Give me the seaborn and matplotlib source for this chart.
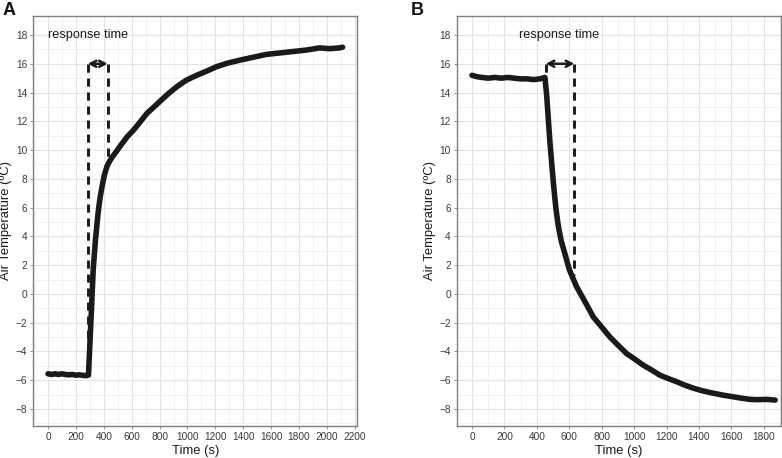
import numpy as np
import pandas as pd
import matplotlib
matplotlib.use("Agg")
import matplotlib.pyplot as plt
from matplotlib.ticker import MultipleLocator
import seaborn as sns

# ---- data ----
time_a = [0, 25, 50, 75, 100, 125, 150, 175, 200, 225, 250, 275, 290, 309, 324, 340,
          352, 364, 376, 388, 405, 424, 440, 459, 490, 519, 570, 614, 660, 709, 760, 804,
          860, 923, 990, 1066, 1140, 1209, 1290, 1375, 1470, 1565, 1660, 1755, 1850,
          1946, 2020, 2088, 2112]
temp_a = [-5.55, -5.6, -5.55, -5.6, -5.55, -5.6, -5.62, -5.6, -5.65, -5.62, -5.66, -5.68,
          -5.64, -1.6, 1.7, 3.75, 4.95, 6.05, 6.85, 7.5, 8.3, 8.9, 9.2, 9.5, 9.9, 10.3,
          10.95, 11.4, 11.95, 12.55, 13.0, 13.4, 13.9, 14.4, 14.85, 15.2, 15.5, 15.8,
          16.05, 16.25, 16.45, 16.65, 16.75, 16.85, 16.95, 17.1, 17.05, 17.1, 17.15]

time_b = [0, 30, 60, 100, 140, 180, 220, 260, 300, 340, 380, 420, 450, 460, 481, 503,
          517, 532, 550, 573, 600, 645, 700, 748, 800, 851, 900, 954, 1000, 1056, 1110,
          1159, 1210, 1262, 1310, 1365, 1420, 1488, 1550, 1611, 1660, 1714, 1760, 1817,
          1870]
temp_b = [15.2, 15.1, 15.05, 15.0, 15.05, 15.0, 15.05, 15.0, 14.95, 14.95, 14.9, 14.95,
          15.05, 13.9, 10.5, 7.6, 6.0, 4.75, 3.7, 2.8, 1.7, 0.5, -0.6, -1.6, -2.3, -3.0,
          -3.55, -4.15, -4.5, -4.95, -5.3, -5.65, -5.88, -6.1, -6.33, -6.55, -6.73, -6.9,
          -7.04, -7.15, -7.24, -7.33, -7.35, -7.33, -7.38]

resp_a_x = [285, 428]      # dashed-line positions (s)
resp_a_low = [-5.6, 9.0]   # lower end of dashed lines
resp_b_x = [455, 631]
resp_b_low = [15.1, 1.3]
arrow_y = 16
label_text = "response time"
label_a = (288, 18)
label_b = (536, 18)

xticks_a = list(range(0, 2201, 200))
xticks_b = list(range(0, 1801, 200))
yticks = list(range(-8, 19, 2))

df_a = pd.DataFrame({"Time (s)": time_a, "Temp": temp_a})
df_b = pd.DataFrame({"Time (s)": time_b, "Temp": temp_b})

sns.set_theme(style="whitegrid")
plt.rcParams["font.family"] = ["Liberation Sans", "DejaVu Sans"]

fig = plt.figure(figsize=(7.82, 4.58), dpi=100)
W, H = 782, 458
ax_a = fig.add_axes([33.3 / W, 1 - 426 / H, (357.3 - 33.3) / W, (426 - 16) / H])
ax_b = fig.add_axes([456.7 / W, 1 - 426 / H, (781 - 456.7) / W, (426 - 16) / H])

panels = [
    (ax_a, df_a, xticks_a, (-105.6, 2217.6), resp_a_x, resp_a_low, label_a, "A", 3),
    (ax_b, df_b, xticks_b, (-94.3, 1906), resp_b_x, resp_b_low, label_b, "B", 411),
]

for ax, df, xt, xl, rx, rlow, lab, letter, lx in panels:
    ax.set_facecolor("white")
    sns.lineplot(data=df, x="Time (s)", y="Temp", ax=ax, color="#1a1a1a",
                 linewidth=4.0, solid_capstyle="round", solid_joinstyle="round", zorder=4)
    for xv, lo in zip(rx, rlow):
        ax.plot([xv, xv], [arrow_y, lo], color="#1a1a1a", linewidth=2.1,
                linestyle=(0, (2.8, 2.0)), zorder=3, solid_capstyle="butt")
    ax.annotate("", xy=(rx[1], arrow_y), xytext=(rx[0], arrow_y),
                arrowprops=dict(arrowstyle="<->,head_length=0.35,head_width=0.18",
                                color="#1a1a1a", lw=1.8, shrinkA=0, shrinkB=0),
                zorder=5)
    ax.text(lab[0], lab[1], label_text, ha="center", va="center", fontsize=9.2,
            color="#1a1a1a")
    ax.set_xlim(*xl)
    ax.set_ylim(-9.18, 19.32)
    ax.set_xticks(xt)
    ax.set_yticks(yticks)
    ax.set_yticklabels([str(v).replace("-", "\u2212") for v in yticks])
    ax.xaxis.set_minor_locator(MultipleLocator(100))
    ax.yaxis.set_minor_locator(MultipleLocator(1))
    ax.grid(which="major", color="#E4E4E4", linewidth=0.8)
    ax.grid(which="minor", color="#F0F0F0", linewidth=0.6)
    ax.set_axisbelow(True)
    for sp in ax.spines.values():
        sp.set_visible(True)
        sp.set_color("#808080")
        sp.set_linewidth(1.0)
    ax.tick_params(which="major", length=2.2, width=0.6, color="#808080", pad=2,
                   labelsize=7.3, labelcolor="#3a3a3a", bottom=True, left=True)
    ax.tick_params(which="minor", length=0)
    ax.set_xlabel("Time (s)", fontsize=9.4, color="#1a1a1a", labelpad=2)
    ax.set_ylabel("Air Temperature (ºC)", fontsize=9.4, color="#1a1a1a", labelpad=2.5)
    fig.text(lx / W, 1 - 2 / H, letter, ha="left", va="top", fontsize=13,
             fontweight="bold", color="#111111")

fig.savefig("out.png", dpi=100)
